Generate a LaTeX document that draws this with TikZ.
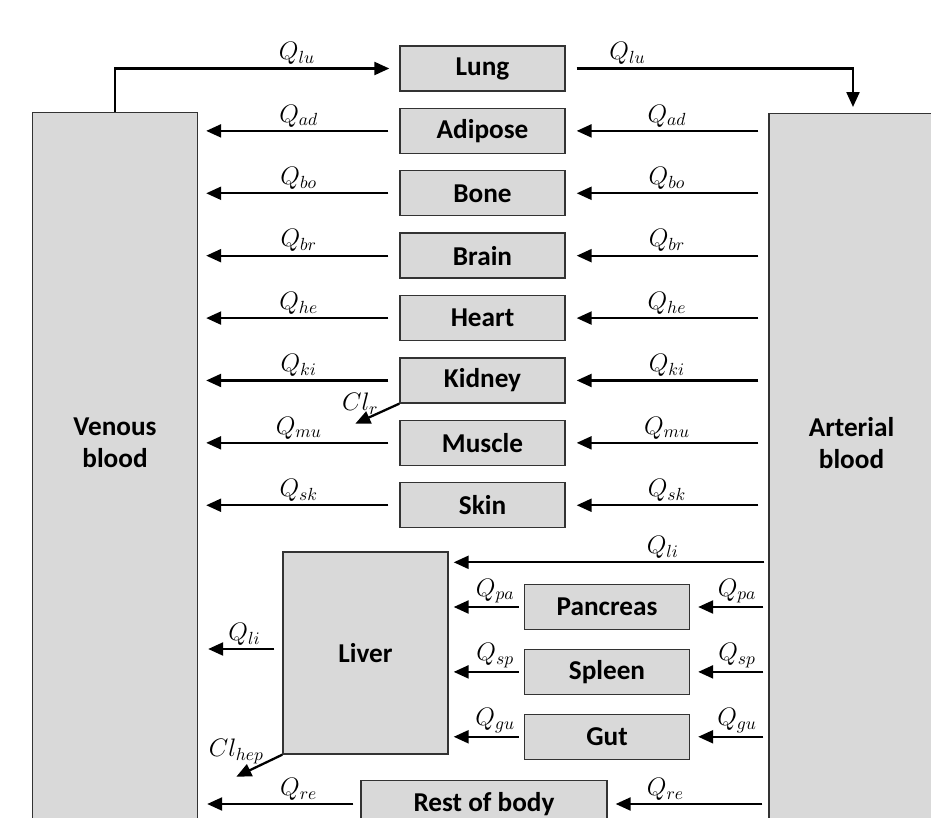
\documentclass[tikz,border=0pt]{standalone}
\usepackage{fontspec}
\setmainfont{Carlito}
\usetikzlibrary{arrows.meta, positioning}
\definecolor{boxgray}{RGB}{217,217,217}

\begin{document}
\begin{tikzpicture}[
        x=0.02cm, y=-0.02cm,
        node distance=0.32cm,
        organ/.style={rectangle, draw=black!80, line width=0.8pt, fill=boxgray, minimum width=3.3cm, minimum height=0.9cm, font=\fontsize{15.5}{18.5}\selectfont\bfseries},
        blood/.style={rectangle, draw=black!80, line width=0.8pt, fill=boxgray, minimum width=3.3cm, minimum height=16cm, anchor=north},
        bloodtext/.style={align=center, font=\fontsize{15.5}{18.5}\selectfont\bfseries},
        flow/.style={-{Triangle[length=0.3cm, width=0.26cm]}, line width=1.3pt},
        tovenous/.style={flow, shorten <=0.22cm, shorten >=0.16cm},
        fromart/.style={flow, shorten <=0.2cm, shorten >=0.22cm},
        qlab/.style={above, inner sep=1.5pt, font=\fontsize{14}{16}\selectfont}
    ]
    \clip (0,0) rectangle (931,818);

    % blood pools
    \node (venous) [blood] at (115,112) {};
    \node (arterial) [blood] at (851.5,113) {};

    % organs
    \node (lung) [organ] at (482.5,68.5) {Lung};
    \node (adipose) [organ, below=of lung] {Adipose};
    \node (bone) [organ, below=of adipose] {Bone};
    \node (brain) [organ, below=of bone] {Brain};
    \node (heart) [organ, below=of brain] {Heart};
    \node (kidney) [organ, below=of heart] {Kidney};
    \node (muscle) [organ, below=of kidney] {Muscle};
    \node (skin) [organ, below=of muscle] {Skin};

    \node (liver) [organ, minimum height=4.04cm] at (365.5,653) {Liver};
    \node (pancreas) [organ] at (607,607) {Pancreas};
    \node (spleen) [organ, below=0.37cm of pancreas] {Spleen};
    \node (gut) [organ, below=0.37cm of spleen] {Gut};
    \node (rest) [organ, minimum width=4.92cm, minimum height=0.95cm] at (484,804) {Rest of body};

    \node [bloodtext] at (venous.center |- muscle) {Venous\\blood};
    \node [bloodtext] at (arterial.center |- muscle) {Arterial\\blood};

    % lung loop
    \coordinate (lucorner) at (venous.north |- lung);
    \coordinate (rucorner) at (853,68.5);
    \draw [flow, shorten >=0.2cm] (venous.north) -- (lucorner) -- node[qlab, pos=0.64] {$Q_{lu}$} (lung.west);
    \draw [flow, shorten <=0.22cm, shorten >=0.12cm] (lung.east) -- node[qlab, pos=0.215] {$Q_{lu}$} (rucorner) -- (rucorner |- arterial.north);

    % organ flows
    \draw [tovenous] (adipose.west) -- node[qlab] {$Q_{ad}$} (venous.east |- adipose);
    \draw [fromart] (arterial.west |- adipose) -- node[qlab] {$Q_{ad}$} (adipose.east);
    \draw [tovenous] (bone.west) -- node[qlab] {$Q_{bo}$} (venous.east |- bone);
    \draw [fromart] (arterial.west |- bone) -- node[qlab] {$Q_{bo}$} (bone.east);
    \draw [tovenous] (brain.west) -- node[qlab] {$Q_{br}$} (venous.east |- brain);
    \draw [fromart] (arterial.west |- brain) -- node[qlab] {$Q_{br}$} (brain.east);
    \draw [tovenous] (heart.west) -- node[qlab] {$Q_{he}$} (venous.east |- heart);
    \draw [fromart] (arterial.west |- heart) -- node[qlab] {$Q_{he}$} (heart.east);
    \draw [tovenous] (kidney.west) -- node[qlab] {$Q_{ki}$} (venous.east |- kidney);
    \draw [fromart] (arterial.west |- kidney) -- node[qlab] {$Q_{ki}$} (kidney.east);
    \draw [tovenous] (muscle.west) -- node[qlab] {$Q_{mu}$} (venous.east |- muscle);
    \draw [fromart] (arterial.west |- muscle) -- node[qlab] {$Q_{mu}$} (muscle.east);
    \draw [tovenous] (skin.west) -- node[qlab] {$Q_{sk}$} (venous.east |- skin);
    \draw [fromart] (arterial.west |- skin) -- node[qlab] {$Q_{sk}$} (skin.east);

    % splanchnic flows
    \coordinate (liin) at ([yshift=-0.22cm]liver.north east);
    \draw [flow, shorten <=0.08cm, shorten >=0.1cm] (liin -| arterial.west) -- node[qlab, pos=0.33] {$Q_{li}$} (liin);
    \draw [flow, shorten <=0.1cm, shorten >=0.16cm] (arterial.west |- pancreas) -- node[qlab, pos=0.4] {$Q_{pa}$} (pancreas.east);
    \draw [flow, shorten <=0.1cm, shorten >=0.1cm] (pancreas.west) -- node[qlab, pos=0.38] {$Q_{pa}$} (liver.east |- pancreas);
    \draw [flow, shorten <=0.1cm, shorten >=0.16cm] (arterial.west |- spleen) -- node[qlab, pos=0.4] {$Q_{sp}$} (spleen.east);
    \draw [flow, shorten <=0.1cm, shorten >=0.1cm] (spleen.west) -- node[qlab, pos=0.38] {$Q_{sp}$} (liver.east |- spleen);
    \draw [flow, shorten <=0.1cm, shorten >=0.16cm] (arterial.west |- gut) -- node[qlab, pos=0.4] {$Q_{gu}$} (gut.east);
    \draw [flow, shorten <=0.1cm, shorten >=0.1cm] (gut.west) -- node[qlab, pos=0.38] {$Q_{gu}$} (liver.east |- gut);
    \draw [flow, shorten <=0.16cm, shorten >=0.2cm] ([yshift=0.08cm]liver.west) -- node[qlab, pos=0.45] {$Q_{li}$} ([yshift=0.08cm]venous.east |- liver);

    % rest of body
    \draw [flow, shorten <=0.14cm, shorten >=0.18cm] (rest.west) -- node[qlab, pos=0.38] {$Q_{re}$} (venous.east |- rest);
    \draw [flow, shorten <=0.12cm, shorten >=0.16cm] (arterial.west |- rest) -- node[qlab, pos=0.64] {$Q_{re}$} (rest.east);

    % clearances
    \coordinate (clr) at ([shift={(-0.88cm,-0.4cm)}]kidney.south west);
    \coordinate (clhep) at ([shift={(-0.92cm,-0.44cm)}]liver.south west);
    \draw [flow] (kidney.south west) -- (clr) node[qlab, above=0.16cm, inner sep=0pt, xshift=0.1cm] {$Cl_r$};
    \draw [flow] (liver.south west) -- (clhep) node[qlab, above=0.24cm, inner sep=0pt] {$Cl_{hep}$};
\end{tikzpicture}
\end{document}
